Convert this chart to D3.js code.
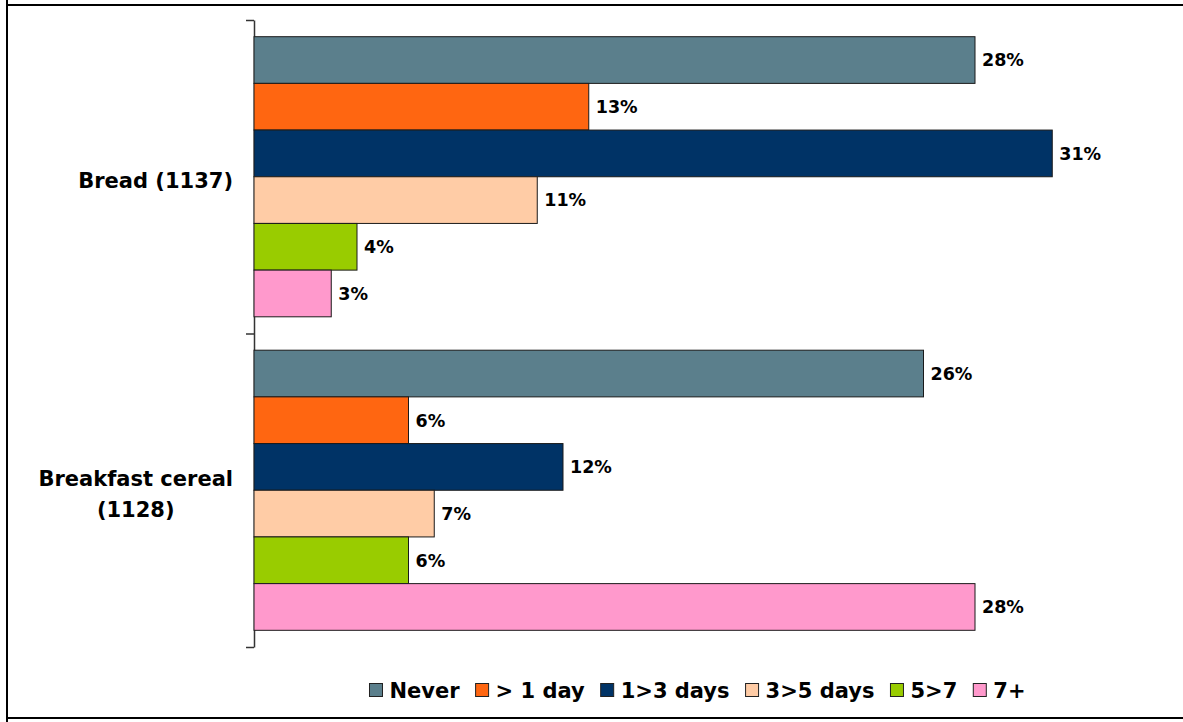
<!DOCTYPE html>
<html>
<head>
<meta charset="utf-8">
<script src="https://cdn.jsdelivr.net/npm/d3@7"></script>
<style>
  body { margin: 0; background: #fff; }
  svg { display: block; font-family: "DejaVu Sans", Verdana, sans-serif; font-weight: bold; }
</style>
</head>
<body>
<div id="chart"></div>
<script>
// chart data
const categories = [["Bread (1137)"], ["Breakfast cereal", "(1128)"]];
const seriesNames = ["Never", "> 1 day", "1>3 days", "3>5 days", "5>7", "7+"];
const seriesColors = ["#5b7f8c", "#ff6611", "#003366", "#ffcca6", "#99cc00", "#ff99cc"];
const never = [28, 26];
const lessOneDay = [13, 6];
const oneToThree = [31, 12];
const threeToFive = [11, 7];
const fiveToSeven = [4, 6];
const sevenPlus = [3, 28];
const seriesValues = [never, lessOneDay, oneToThree, threeToFive, fiveToSeven, sevenPlus];

const W = 1183, H = 722;

const svg = d3.select('#chart')
    .append('svg')
    .attr('width', W)
    .attr('height', H);

// frame lines (table cell borders)
svg.append('line').attr('x1', 7).attr('x2', 7).attr('y1', 0).attr('y2', H)
    .attr('stroke', '#000').attr('stroke-width', 2);
svg.append('line').attr('x1', 7).attr('x2', W).attr('y1', 5).attr('y2', 5)
    .attr('stroke', '#000').attr('stroke-width', 2);
svg.append('line').attr('x1', 7).attr('x2', W).attr('y1', 718).attr('y2', 718)
    .attr('stroke', '#000').attr('stroke-width', 2);

//scales
const x = d3.scaleLinear().domain([0, 35]).range([254, 1155.25]);

const y = d3.scaleBand()
    .domain(d3.range(categories.length))
    .range([20, 647])
    .paddingInner(0.1065)
    .paddingOuter(0.05325);

const ySeries = d3.scaleBand()
    .domain(d3.range(seriesNames.length))
    .range([0, y.bandwidth()]);

// category axis with ticks between groups
const yEdge = d3.scaleLinear().domain([0, categories.length]).range([20, 647]);
const axis = d3.axisLeft(yEdge)
    .tickValues(d3.range(categories.length + 1))
    .tickFormat('')
    .tickSizeInner(8)
    .tickSizeOuter(0);

const axisG = svg.append('g')
    .attr('transform', `translate(${x(0)}, 0)`)
    .call(axis);
axisG.selectAll('path, line').attr('stroke', '#333').attr('stroke-width', 1.5);

// bars
const groups = svg.selectAll('g.cat')
    .data(categories)
    .enter()
    .append('g')
    .attr('class', 'cat')
    .attr('transform', (d, i) => `translate(0, ${y(i)})`);

groups.each(function(cat, ci) {
    const g = d3.select(this);
    const rows = seriesValues.map((vals, si) => ({ si, v: vals[ci] }));

    g.selectAll('rect')
        .data(rows)
        .enter()
        .append('rect')
        .attr('x', x(0))
        .attr('y', d => ySeries(d.si))
        .attr('width', d => x(d.v) - x(0))
        .attr('height', ySeries.bandwidth())
        .attr('fill', d => seriesColors[d.si])
        .attr('stroke', '#1a1a1a')
        .attr('stroke-width', 1);

    g.selectAll('text.val')
        .data(rows)
        .enter()
        .append('text')
        .attr('class', 'val')
        .attr('x', d => x(d.v) + 7)
        .attr('y', d => ySeries(d.si) + ySeries.bandwidth() / 2)
        .attr('dy', '0.36em')
        .attr('font-size', 17.5)
        .attr('fill', '#000')
        .text(d => d.v + '%');
});

// category labels, centered block whose right edge sits just left of the axis
categories.forEach((lines, i) => {
    const cy = y(i) + y.bandwidth() / 2;
    const lh = 31;
    const t = svg.append('text')
        .attr('font-size', 21)
        .attr('text-anchor', 'middle')
        .attr('fill', '#000');
    lines.forEach((ln, k) => {
        t.append('tspan')
            .attr('x', 0)
            .attr('y', cy + (k - (lines.length - 1) / 2) * lh + 4)
            .attr('dy', '0.36em')
            .text(ln);
    });
    const maxW = d3.max(t.selectAll('tspan').nodes(), n => n.getComputedTextLength());
    t.selectAll('tspan').attr('x', 233 - maxW / 2);
});

// legend
const legend = svg.append('g');
let lx = 0;
seriesNames.forEach((name, i) => {
    const item = legend.append('g').attr('transform', `translate(${lx}, 0)`);
    item.append('rect')
        .attr('x', 0).attr('y', -6.5)
        .attr('width', 13).attr('height', 13)
        .attr('fill', seriesColors[i])
        .attr('stroke', '#222').attr('stroke-width', 1);
    const t = item.append('text')
        .attr('x', 20)
        .attr('y', 0)
        .attr('dy', '0.36em')
        .attr('font-size', 21)
        .attr('fill', '#000')
        .text(name);
    lx += 20 + t.node().getComputedTextLength() + 16;
});
const legendW = lx - 16;
legend.attr('transform', `translate(${697.5 - legendW / 2}, 690)`);
</script>
</body>
</html>
